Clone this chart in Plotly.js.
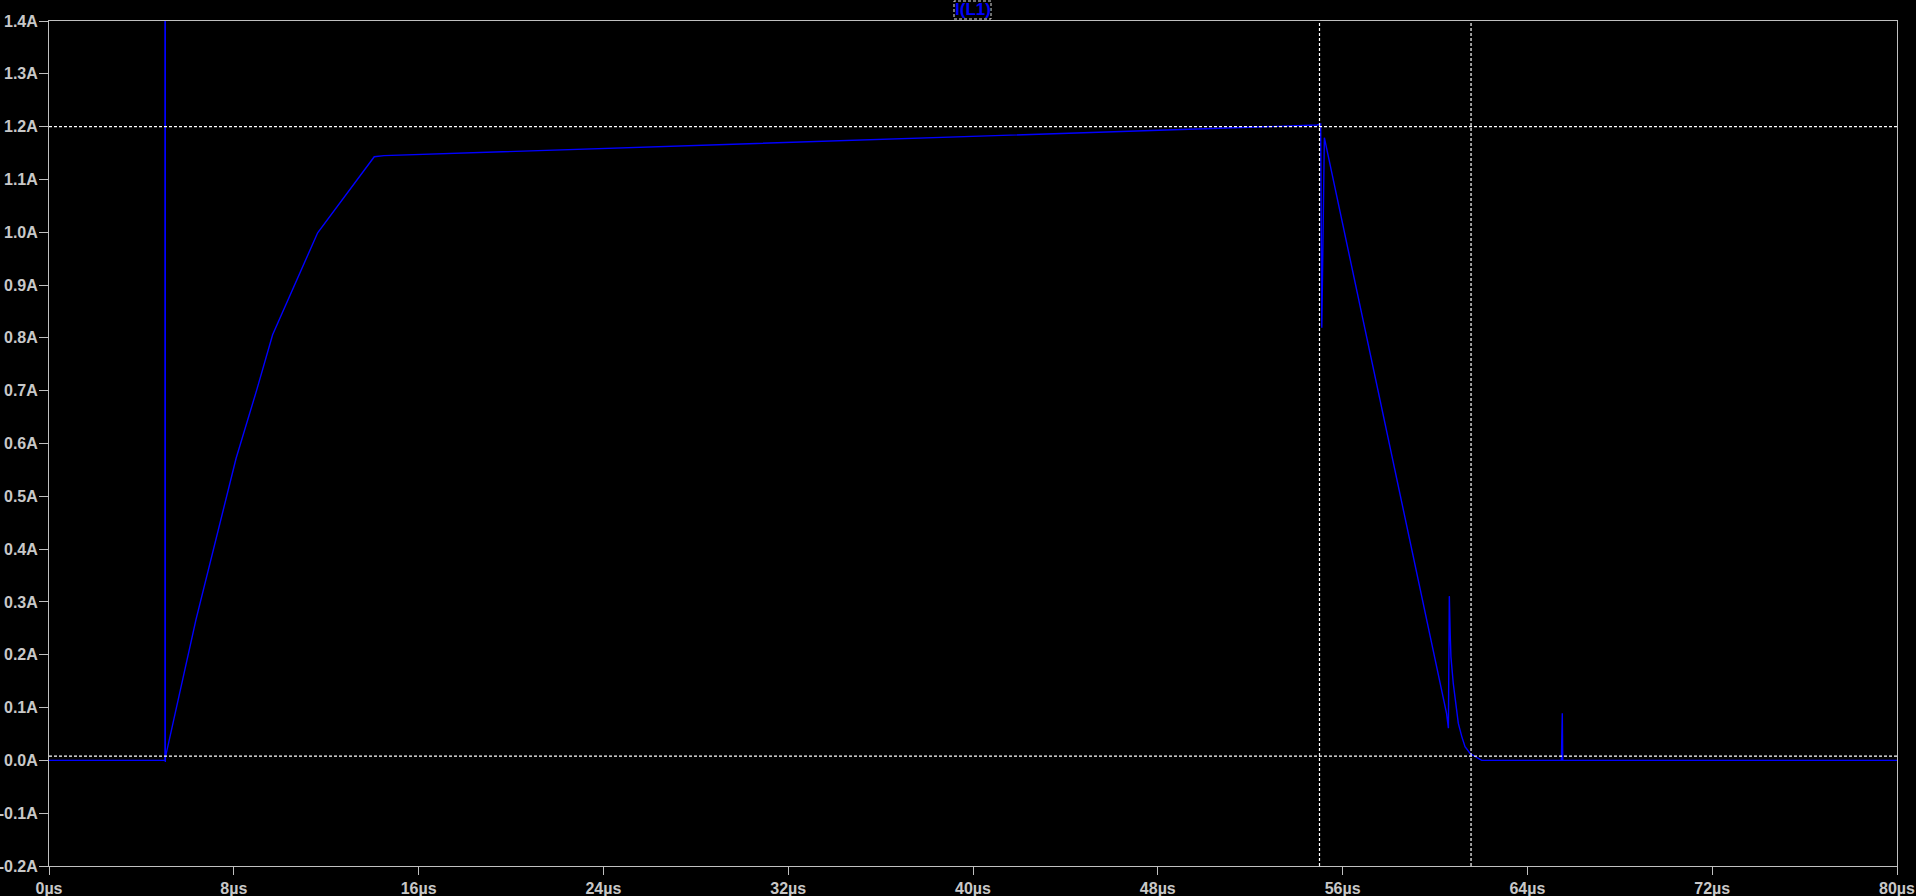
<!DOCTYPE html>
<html>
<head>
<meta charset="utf-8">
<script src="https://cdn.plot.ly/plotly-3.0.1.min.js"></script>
<style>
html,body{margin:0;padding:0;background:#000;}
#chart{width:1916px;height:896px;}
</style>
</head>
<body>
<div id="chart"></div>
<script>
// Time in microseconds, current I(L1) in amperes
const timeUs = [0, 5.02, 5.03, 5.035, 5.04, 6.36, 8.10, 8.99, 9.68, 11.63, 14.08, 14.5,
  20, 30, 40, 45.5, 50, 54.9, 55.05, 55.10, 55.21, 59.1, 60.50, 60.58, 60.62, 60.66,
  60.69, 60.79, 60.91, 61.01, 61.16, 61.30, 61.52, 61.73, 62.02, 65.47, 65.48, 65.49,
  65.50, 65.51, 65.53, 80];
const currentA = [0, 0, 12, -0.003, 0.006, 0.266, 0.572, 0.701, 0.806, 0.999, 1.143, 1.145,
  1.153, 1.167, 1.181, 1.190, 1.196, 1.203, 1.205, 0.819, 1.179, 0.375, 0.089, 0.061, 0.311, 0.237,
  0.196, 0.146, 0.102, 0.070, 0.045, 0.026, 0.013, 0.007, 0, 0, 0.045, 0,
  0, 0.089, 0, 0];

const traceName = "I(L1)";
const xTickVals = [0, 8, 16, 24, 32, 40, 48, 56, 64, 72, 80];
const xTickText = ["0µs", "8µs", "16µs", "24µs", "32µs", "40µs", "48µs", "56µs", "64µs", "72µs", "80µs"];
const yTickVals = [-0.2, -0.1, 0.0, 0.1, 0.2, 0.3, 0.4, 0.5, 0.6, 0.7, 0.8, 0.9, 1.0, 1.1, 1.2, 1.3, 1.4];
const yTickText = ["-0.2A", "-0.1A", "0.0A", "0.1A", "0.2A", "0.3A", "0.4A", "0.5A", "0.6A", "0.7A", "0.8A", "0.9A", "1.0A", "1.1A", "1.2A", "1.3A", "1.4A"];
// Cursor positions
const cursorX = [55.0, 61.56];
const cursorY = [1.2, 0.008];

const axisColor = "#c0c0c0";
const tickFont = {family: "Liberation Sans, Arial, sans-serif", size: 16, color: "#c8c8c8", weight: "bold"};

const shapes = [];
cursorX.forEach(v => shapes.push({type: "line", xref: "x", yref: "paper", x0: v, x1: v, y0: 0, y1: 1,
  line: {color: "#ffffff", width: 1.2, dash: "3px,2px"}}));
cursorY.forEach(v => shapes.push({type: "line", xref: "paper", yref: "y", x0: 0, x1: 1, y0: v, y1: v,
  line: {color: "#ffffff", width: 1.2, dash: "3px,2px"}}));
// dashed box around trace label
shapes.push({type: "rect", xref: "paper", yref: "paper",
  x0: (954 - 49) / 1848, x1: (991 - 49) / 1848, y0: (866 - 19) / 845, y1: (866 - 1) / 845,
  line: {color: "#e0e0e0", width: 1, dash: "3px,2px"}});

const data = [{
  type: "scatter", mode: "lines", x: timeUs, y: currentA, name: traceName,
  line: {color: "#0000ff", width: 1.4}, hoverinfo: "x+y"
}];

const layout = {
  width: 1916, height: 896,
  paper_bgcolor: "#000000", plot_bgcolor: "#000000",
  margin: {l: 49, r: 19, t: 21, b: 30, pad: 0},
  showlegend: false,
  xaxis: {range: [0, 80], tickvals: xTickVals, ticktext: xTickText, showgrid: false, zeroline: false,
    showline: true, mirror: true, linecolor: axisColor, linewidth: 1,
    ticks: "outside", ticklen: 8, tickcolor: axisColor, tickwidth: 1, tickfont: tickFont},
  yaxis: {range: [-0.2, 1.4], tickvals: yTickVals, ticktext: yTickText, showgrid: false, zeroline: false,
    showline: true, mirror: true, linecolor: axisColor, linewidth: 1,
    ticks: "outside", ticklen: 9, tickcolor: axisColor, tickwidth: 1, tickfont: tickFont,
    ticklabelstandoff: -2},
  shapes: shapes,
  annotations: [{xref: "paper", yref: "paper", x: 0.5, y: (866 - 10) / 845, xanchor: "center", yanchor: "middle",
    text: "<b>" + traceName + "</b>", showarrow: false,
    font: {family: "Liberation Sans, Arial, sans-serif", size: 17, color: "#0000ff"}}]
};

Plotly.newPlot("chart", data, layout, {displayModeBar: false, staticPlot: true});
</script>
</body>
</html>
